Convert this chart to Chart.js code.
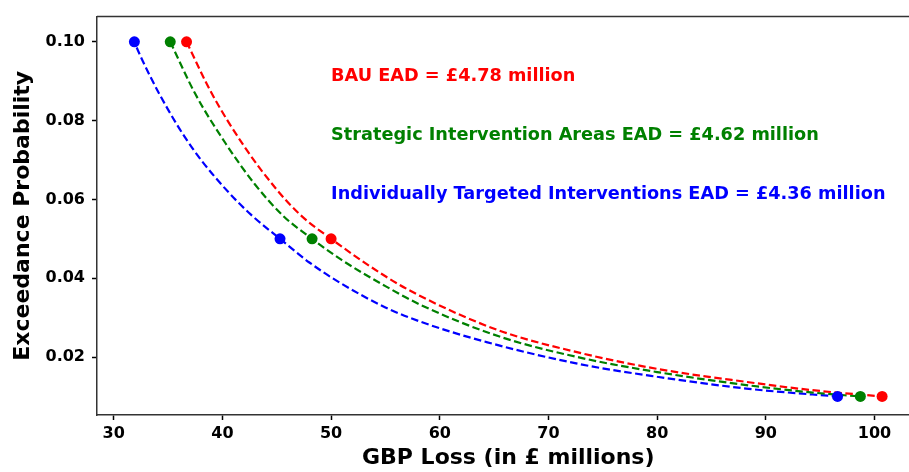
<!DOCTYPE html>
<html><head><meta charset="utf-8">
<script src="https://cdn.jsdelivr.net/npm/chart.js@4/dist/chart.umd.min.js"></script>
<style>
html,body{margin:0;padding:0;overflow:hidden;background:#fff;width:909px;height:472px}
#wrap{width:925px;height:472px;position:relative}
</style></head>
<body><div id="wrap"><canvas id="c" width="925" height="472"></canvas></div>
<script>
// ---- data ----
const xTicks = [30, 40, 50, 60, 70, 80, 90, 100];
const yTicks = [0.02, 0.04, 0.06, 0.08, 0.10];
const returnProb = [0.10, 0.05, 0.01];            // exceedance probabilities of the markers
const bauLoss = [36.7, 50.0, 100.7];              // markers (GBP millions)
const siaLoss = [35.2, 48.25, 98.7];
const itiLoss = [31.9, 45.3, 96.6];
// dashed fitted curves
const bauCurveX = [36.7, 39.0, 42.0, 45.0, 47.2, 50.0, 55.0, 58.2, 65.5, 73.0, 80.0, 88.2, 94.3, 100.7];
const bauCurveY = [0.1000, 0.0870, 0.0735, 0.0625, 0.0560, 0.0500, 0.0405, 0.0355, 0.0267, 0.0210, 0.0170, 0.0137, 0.0116, 0.0100];
const siaCurveX = [35.2, 37.5, 40.3, 43.0, 45.6, 48.25, 51.0, 55.0, 58.2, 65.5, 73.0, 80.0, 88.2, 94.3, 98.7];
const siaCurveY = [0.1000, 0.0868, 0.0742, 0.0638, 0.0558, 0.0500, 0.0446, 0.0380, 0.0333, 0.0252, 0.0198, 0.0162, 0.0129, 0.0110, 0.0100];
const itiCurveX = [31.75, 31.9, 33.4, 35.0, 36.5, 38.1, 40.5, 42.6, 45.3, 48.0, 50.85, 55.0, 58.2, 64.3, 72.9, 80.0, 88.2, 94.3, 96.6];
const itiCurveY = [0.1012, 0.1000, 0.0910, 0.0828, 0.0760, 0.0698, 0.0620, 0.0562, 0.0500, 0.0440, 0.0388, 0.0326, 0.0290, 0.0238, 0.0182, 0.0150, 0.0120, 0.0105, 0.0100];
const annotTexts = ['BAU EAD = £4.78 million', 'Strategic Intervention Areas EAD = £4.62 million', 'Individually Targeted Interventions EAD = £4.36 million'];
const annotX = [50, 50, 50];
const annotY = [0.09, 0.075, 0.06];

// ---- styles ----
const colors = ['#ff0000', '#008000', '#0000ff'];
const FONT = '"DejaVu Sans", "Liberation Sans", sans-serif';

const zip = (xs, ys) => xs.map((x, i) => ({x: x, y: ys[i]}));
const curves = [[bauCurveX, bauCurveY], [siaCurveX, siaCurveY], [itiCurveX, itiCurveY]];
const markers = [bauLoss, siaLoss, itiLoss];

const datasets = [];
curves.forEach((c, i) => datasets.push({
  type: 'line', data: zip(c[0], c[1]), borderColor: colors[i], borderWidth: 2.2,
  borderDash: [7.5, 3.5], pointRadius: 0, fill: false, cubicInterpolationMode: 'monotone', order: 2
}));
markers.forEach((m, i) => datasets.push({
  type: 'scatter', data: zip(m, returnProb), backgroundColor: colors[i], borderWidth: 0,
  pointRadius: 5.5, order: 1
}));

const annotPlugin = {
  id: 'annot',
  afterDatasetsDraw(chart) {
    const ctx = chart.ctx, xs = chart.scales.x, ys = chart.scales.y, a = chart.chartArea;
    ctx.save();
    ctx.strokeStyle = '#333'; ctx.lineWidth = 1.5;
    ctx.beginPath(); ctx.moveTo(a.left, a.top); ctx.lineTo(a.right, a.top); ctx.stroke();
    ctx.font = 'bold 17.7px ' + FONT; ctx.textBaseline = 'alphabetic'; ctx.textAlign = 'left';
    annotTexts.forEach((t, i) => {
      ctx.fillStyle = colors[i];
      ctx.fillText(t, xs.getPixelForValue(annotX[i]), ys.getPixelForValue(annotY[i]));
    });
    ctx.restore();
  }
};

new Chart(document.getElementById('c'), {
  type: 'scatter',
  data: {datasets: datasets},
  options: {
    responsive: false, animation: false, devicePixelRatio: 1,
    layout: {padding: {top: 14, right: 5, left: 0, bottom: 0}},
    plugins: {legend: {display: false}, tooltip: {enabled: false}},
    scales: {
      x: {
        type: 'linear', min: 28.46, max: 104.14,
        afterBuildTicks: s => { s.ticks = xTicks.map(v => ({value: v})); },
        afterFit: s => { s.height = 57; },
        ticks: {color: '#000', padding: 4, font: {family: FONT, size: 16, weight: 'bold'}, callback: v => String(v), maxRotation: 0},
        grid: {display: true, drawOnChartArea: false, drawTicks: true, tickLength: 5, tickWidth: 1.5, tickColor: '#000'},
        border: {display: true, color: '#333', width: 1.5},
        title: {display: true, text: 'GBP Loss (in £ millions)', color: '#000', padding: {top: 0, bottom: 1}, font: {family: FONT, size: 22, weight: 'bold'}}
      },
      y: {
        type: 'linear', min: 0.0053, max: 0.1064,
        afterBuildTicks: s => { s.ticks = yTicks.map(v => ({value: v})); },
        afterFit: s => { s.width = 97; },
        ticks: {color: '#000', padding: 7, font: {family: FONT, size: 16, weight: 'bold'}, callback: v => Number(v).toFixed(2)},
        grid: {display: true, drawOnChartArea: false, drawTicks: true, tickLength: 5, tickWidth: 1.5, tickColor: '#000'},
        border: {display: true, color: '#333', width: 1.5},
        title: {display: true, text: 'Exceedance Probability', color: '#000', padding: {top: 10, bottom: 0}, font: {family: FONT, size: 22, weight: 'bold'}}
      }
    }
  },
  plugins: [annotPlugin]
});
</script>
</body></html>
